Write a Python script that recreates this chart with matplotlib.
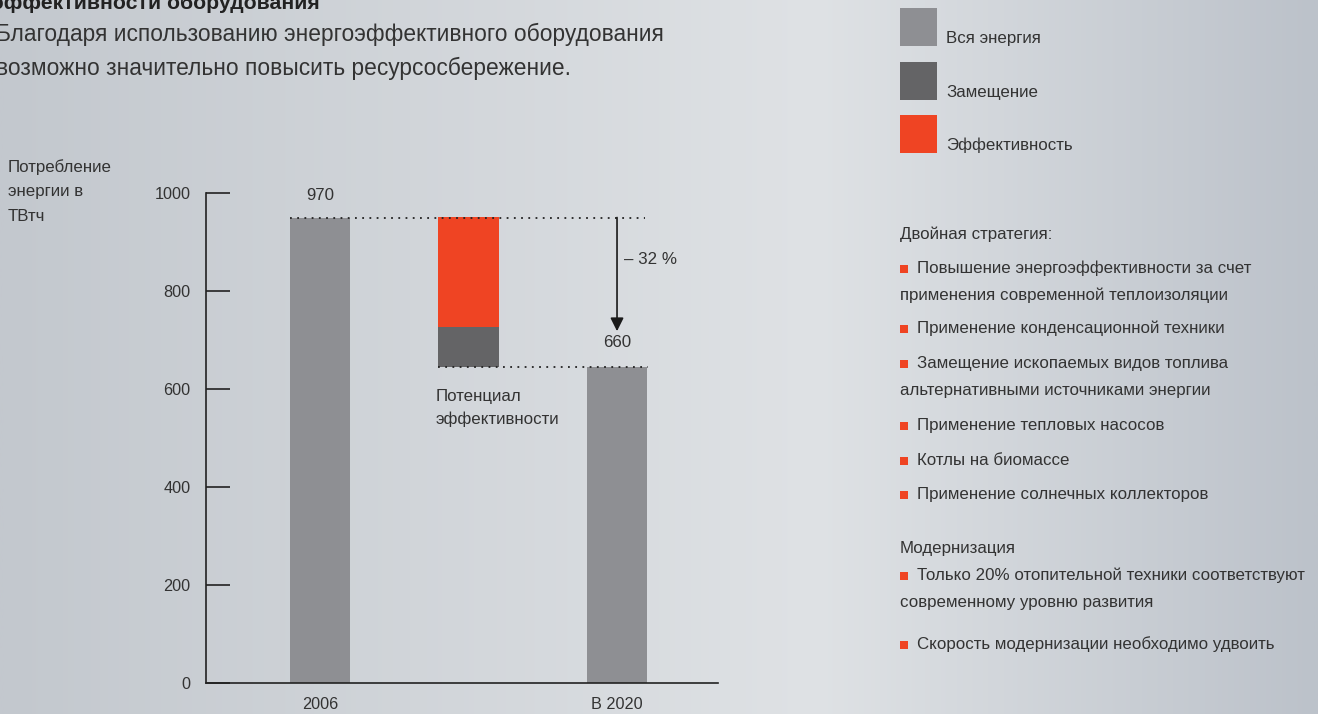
import numpy as np
import matplotlib.pyplot as plt
from matplotlib.colors import LinearSegmentedColormap
from matplotlib.patches import Rectangle

plt.rcParams['font.family'] = ['Liberation Sans', 'DejaVu Sans']

# --- data ---
categories = ["2006", "", "В 2020"]
total_energy = [950, 0, 645]          # grey bars
substitution = [0, 82, 0]             # dark grey part of the middle bar
efficiency = [0, 224, 0]              # red part of the middle bar
value_labels = ["970", "", "660"]
reduction_label = "– 32 %"
potential_label = "Потенциал\nэффективности"
y_ticks = [0, 200, 400, 600, 800, 1000]

legend_labels = ["Вся энергия", "Замещение", "Эффективность"]
strategy_items = [
    "Повышение энергоэффективности за счет\nприменения современной теплоизоляции",
    "Применение конденсационной техники",
    "Замещение ископаемых видов топлива\nальтернативными источниками энергии",
    "Применение тепловых насосов",
    "Котлы на биомассе",
    "Применение солнечных коллекторов",
]
modern_items = [
    "Только 20% отопительной техники соответствуют\nсовременному уровню развития",
    "Скорость модернизации необходимо удвоить",
]

c_all = '#8e8f93'
c_sub = '#646466'
c_eff = '#ef4423'
txt = '#333333'
fs = 12.2

W, H = 1318, 714
fig = plt.figure(figsize=(W / 100, H / 100), dpi=100)

# background gradient, pixel coordinates
bg = fig.add_axes([0, 0, 1, 1])
bg.set_xlim(0, W)
bg.set_ylim(H, 0)
bg.axis('off')
cmap = LinearSegmentedColormap.from_list(
    'bg', [(0, '#c3c8ce'), (0.62, '#dfe2e5'), (1, '#bcc2ca')])
bg.imshow(np.linspace(0, 1, 500).reshape(1, -1), extent=[0, W, H, 0],
          aspect='auto', cmap=cmap, zorder=0)

# header text (top line is cut by the frame in the original)
bg.text(-8, 9, "эффективности оборудования", fontsize=15.3, fontweight='bold',
        color='#222222', va='baseline')
bg.text(-4, 41, "Благодаря использованию энергоэффективного оборудования",
        fontsize=16.4, color=txt, va='baseline')
bg.text(-4, 75, "возможно значительно повысить ресурсосбережение.",
        fontsize=16.4, color=txt, va='baseline')

bg.text(8, 159, "Потребление\nэнергии в\nТВтч", fontsize=fs, color=txt,
        va='top', linespacing=1.78)

# legend
for i, (lab, col) in enumerate(zip(legend_labels, [c_all, c_sub, c_eff])):
    y0 = 8 + i * 53.5
    bg.add_patch(Rectangle((900, y0), 37, 38, color=col, lw=0))
    bg.text(946, y0 + 35, lab, fontsize=fs, color=txt, va='baseline')

# right side text
def bullet_block(items, y_start, gaps):
    y = y_start
    for item, gap in zip(items, gaps):
        lines = item.split("\n")
        bg.add_patch(Rectangle((900, y - 8), 8, 8, color=c_eff, lw=0))
        bg.text(917, y, lines[0], fontsize=fs, color=txt, va='baseline')
        for ln in lines[1:]:
            y += 27
            bg.text(900, y, ln, fontsize=fs, color=txt, va='baseline')
        y += gap

bg.text(900, 239, "Двойная стратегия:", fontsize=fs, color=txt, va='baseline')
bullet_block(strategy_items, 273, [33, 35, 35, 35, 34, 0])
bg.text(900, 553, "Модернизация", fontsize=fs, color=txt, va='baseline')
bullet_block(modern_items, 580, [42, 0])

# main chart
ax = fig.add_axes([206 / W, (H - 683) / H, (718 - 206) / W, 490 / H])
ax.patch.set_alpha(0)
x = np.arange(len(categories))
bw = 0.41
ax.bar(x, total_energy, width=bw, color=c_all, zorder=2)
ax.bar(x, substitution, width=bw, bottom=total_energy[2], color=c_sub, zorder=2)
ax.bar(x, efficiency, width=bw, bottom=[total_energy[2] + s for s in substitution],
       color=c_eff, zorder=2)

ax.set_xlim(-0.768, 2.68)
ax.set_ylim(0, 1000)

dots = (0, (1, 3))
ax.plot([x[0] - bw / 2, 2.19], [total_energy[0]] * 2, ls=dots, color='#222222',
        lw=1.3, zorder=3)
ax.plot([x[1] - bw / 2, 2.21], [total_energy[2]] * 2, ls=dots, color='#222222',
        lw=1.3, zorder=3)

ax.annotate('', xy=(x[2], 718), xytext=(x[2], total_energy[0]),
            arrowprops=dict(arrowstyle='-|>', color='#1a1a1a', lw=1.2,
                            mutation_scale=20, shrinkA=0, shrinkB=0))
ax.text(x[2] + 0.05, 865, reduction_label, fontsize=fs, color=txt, va='center')

ax.text(x[0], 995, value_labels[0], fontsize=fs, color=txt, ha='center', va='center')
ax.text(x[2], 695, value_labels[2], fontsize=fs, color=txt, ha='center', va='center')
ax.text(x[1] - 0.22, 599, potential_label, fontsize=fs, color=txt, va='top',
        linespacing=1.58)

for s in ['top', 'right']:
    ax.spines[s].set_visible(False)
for s in ['left', 'bottom']:
    ax.spines[s].set_color('#222222')
    ax.spines[s].set_linewidth(1.2)

ax.set_yticks(y_ticks)
ax.tick_params(axis='y', direction='in', length=17, width=1.2, color='#222222',
               pad=11, labelsize=11.7, labelcolor=txt)
ax.set_xticks([0, 2])
ax.set_xticklabels([categories[0], categories[2]])
ax.tick_params(axis='x', length=0, pad=10, labelsize=11.7, labelcolor=txt)

fig.savefig('out.png', dpi=100)
